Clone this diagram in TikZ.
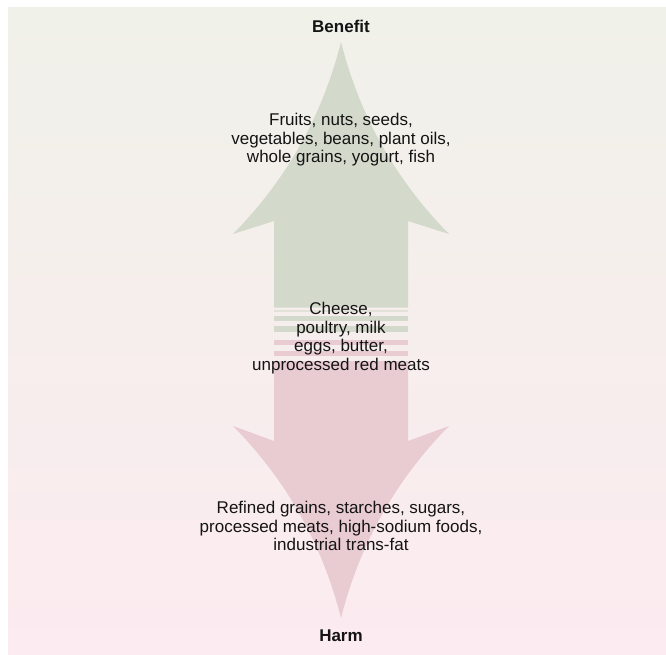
\documentclass[tikz,border=0pt]{standalone}
\usepackage{fontspec}
\setmainfont{Liberation Sans}
\definecolor{bgtop}{RGB}{240,241,233}
\definecolor{bgmid}{RGB}{253,253,252}
\definecolor{bgbot}{RGB}{252,235,240}
\definecolor{arrgreen}{RGB}{211,217,203}
\definecolor{arrpink}{RGB}{233,203,210}
\definecolor{txt}{RGB}{20,20,20}
\tikzset{
  bodytext/.style={align=center, text=txt, inner sep=0pt, font=\fontsize{17}{18.6}\selectfont},
  headtext/.style={text=txt, inner sep=0pt, font=\bfseries\fontsize{17}{18.6}\selectfont},
  greenfill/.style={fill=arrgreen, draw=none},
  pinkfill/.style={fill=arrpink, draw=none}
}
\begin{document}
\begin{tikzpicture}[x=1pt,y=-1pt]
\useasboundingbox (0,0) rectangle (666,655);
\shade[top color=bgtop, middle color=bgmid, bottom color=bgbot] (8,8) rectangle (666,654);
% up arrow
\fill[greenfill] (341,42) .. controls (322.3,116) and (286.3,180) .. (233,234)
  -- (274,221) -- (274,307.5) -- (408,307.5) -- (408,221) -- (449,234)
  .. controls (395.7,180) and (359.7,116) .. (341,42) -- cycle;
\fill[greenfill, opacity=0.6] (274,309.5) rectangle (408,312);
\fill[greenfill] (274,315.7) rectangle (408,320.7);
\fill[greenfill] (274,326) rectangle (408,331.7);
\fill[pinkfill] (274,340) rectangle (408,345);
\fill[pinkfill] (274,350.5) rectangle (408,355.5);
% down arrow
\fill[pinkfill] (274,361) -- (274,441) -- (233,426)
  .. controls (286.3,480) and (322.3,544) .. (341,618)
  .. controls (359.7,544) and (395.7,480) .. (449,426)
  -- (408,441) -- (408,361) -- cycle;
% texts
\node[headtext] (benefit) at (341,26) {Benefit};
\node[bodytext] (good) at (341,140) {Fruits, nuts, seeds,\\vegetables, beans, plant oils,\\whole grains, yogurt, fish};
\node[bodytext] (neutral) at (341,338) {Cheese,\\poultry, milk\\eggs, butter,\\unprocessed red meats};
\node[bodytext] (bad) at (341,526) {Refined grains, starches, sugars,\\processed meats, high-sodium foods,\\industrial trans-fat};
\node[headtext] (harm) at (341,636) {Harm};
\end{tikzpicture}
\end{document}
